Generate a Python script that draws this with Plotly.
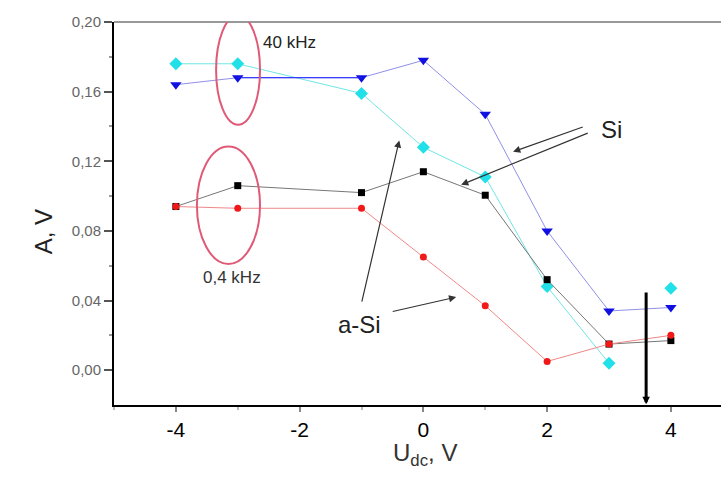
import plotly.graph_objects as go

# Data
x_vals = [-4, -3, -1, 0, 1, 2, 3, 4]
black_sq = [0.094, 0.106, 0.102, 0.114, 0.1005, 0.052, 0.015, 0.017]
red_circ = [0.094, 0.093, 0.093, 0.065, 0.037, 0.005, 0.015, 0.020]
cyan_dia = [0.176, 0.176, 0.159, 0.128, 0.111, 0.048, 0.004, 0.047]
blue_tri = [0.164, 0.168, 0.168, 0.178, 0.147, 0.080, 0.034, 0.036]

y_tickvals = [0.00, 0.04, 0.08, 0.12, 0.16, 0.20]
y_ticktext = ["0,00", "0,04", "0,08", "0,12", "0,16", "0,20"]
x_tickvals = [-4, -2, 0, 2, 4]
x_ticktext = ["-4", "-2", "0", "2", "4"]

FONT = "Arial, Liberation Sans, sans-serif"

fig = go.Figure()

# cyan: line through the first seven points only, markers on all
fig.add_trace(go.Scatter(x=x_vals[:7], y=cyan_dia[:7], mode="lines",
                         line=dict(color="#70e6e6", width=1), showlegend=False))
fig.add_trace(go.Scatter(x=x_vals, y=cyan_dia, mode="markers",
                         marker=dict(symbol="diamond", size=10, color="#22e0e8"),
                         showlegend=False))
# blue
fig.add_trace(go.Scatter(x=x_vals, y=blue_tri, mode="lines+markers",
                         line=dict(color="#9090e8", width=1),
                         marker=dict(symbol="triangle-down", size=10, color="#1010e0"),
                         showlegend=False))
fig.add_trace(go.Scatter(x=x_vals[1:3], y=blue_tri[1:3], mode="lines",
                         line=dict(color="#2020ff", width=1), showlegend=False))
# black
fig.add_trace(go.Scatter(x=x_vals, y=black_sq, mode="lines+markers",
                         line=dict(color="#777777", width=1),
                         marker=dict(symbol="square", size=7, color="#000000"),
                         showlegend=False))
# red
fig.add_trace(go.Scatter(x=x_vals, y=red_circ, mode="lines+markers",
                         line=dict(color="#f08888", width=1),
                         marker=dict(symbol="circle", size=7, color="#f01818"),
                         showlegend=False))

shapes = [
    dict(type="line", xref="paper", yref="paper", x0=0, x1=1, y0=1, y1=1,
         line=dict(color="#777777", width=1.5)),
    dict(type="circle", xref="x", yref="y", x0=-3.35, x1=-2.64, y0=0.141, y1=0.204,
         line=dict(color="#e05a78", width=2)),
    dict(type="circle", xref="x", yref="y", x0=-3.66, x1=-2.64, y0=0.061, y1=0.1285,
         line=dict(color="#e05a78", width=2)),
]

annotations = [
    dict(text="40 kHz", x=-2.17, y=0.1885, xref="x", yref="y", showarrow=False,
         font=dict(family=FONT, size=17, color="#222222")),
    dict(text="0,4 kHz", x=-3.1, y=0.0535, xref="x", yref="y", showarrow=False,
         font=dict(family=FONT, size=17, color="#333333")),
    dict(text="Si", x=3.04, y=0.1385, xref="x", yref="y", showarrow=False,
         font=dict(family=FONT, size=24, color="#222222")),
    dict(text="a-Si", x=-1.03, y=0.026, xref="x", yref="y", showarrow=False,
         font=dict(family=FONT, size=24, color="#222222")),
    dict(text="A, V", x=-0.1417, y=0.452, xref="paper", yref="paper", showarrow=False,
         textangle=-90, font=dict(family=FONT, size=24, color="#222222")),
    dict(text="U<sub>dc</sub>, V", x=0.512, y=-0.175, xref="paper", yref="paper",
         showarrow=False, font=dict(family=FONT, size=24, color="#333333")),
]

arrow_style = dict(xref="x", yref="y", axref="x", ayref="y", text="", showarrow=True,
                   arrowhead=2, arrowsize=1.2, arrowwidth=1.2, arrowcolor="#333333")
arrows = [
    dict(x=1.45, y=0.1255, ax=2.6, ay=0.140),
    dict(x=0.61, y=0.1065, ax=2.68, ay=0.1365),
    dict(x=-0.39, y=0.132, ax=-1.0, ay=0.0385),
    dict(x=0.53, y=0.0420, ax=-0.52, ay=0.0335),
]
for a in arrows:
    annotations.append(dict(**arrow_style, **a))

annotations.append(dict(xref="x", yref="y", axref="x", ayref="y", text="", showarrow=True,
                        x=3.6, y=-0.0195, ax=3.6, ay=0.0455,
                        arrowhead=2, arrowsize=0.5, arrowwidth=3, arrowcolor="#000000"))

fig.update_layout(
    width=721, height=486,
    margin=dict(l=114, r=0, t=22, b=81),
    paper_bgcolor="white", plot_bgcolor="white",
    shapes=shapes, annotations=annotations,
    font=dict(family=FONT),
)

fig.update_xaxes(
    range=[-5, 4.81], showgrid=False, zeroline=False,
    showline=True, linecolor="black", linewidth=2,
    tickvals=x_tickvals, ticktext=x_ticktext,
    ticks="outside", ticklen=5, tickcolor="#888888", tickwidth=1.5,
    minor=dict(tickvals=[-5, -3, -1, 1, 3], ticks="outside", ticklen=3, tickcolor="#bbbbbb"),
    tickfont=dict(family=FONT, size=21, color="#000000"),
)
fig.update_yaxes(
    range=[-0.02, 0.20], showgrid=False, zeroline=False,
    showline=True, linecolor="black", linewidth=2,
    tickvals=y_tickvals, ticktext=y_ticktext,
    ticks="outside", ticklen=8, tickcolor="#555555", tickwidth=1.5,
    minor=dict(tickvals=[0.02, 0.06, 0.10, 0.14, 0.18], ticks="outside", ticklen=3,
               tickcolor="#999999"),
    tickfont=dict(family=FONT, size=15, color="#666666"),
)

fig.write_html("out.html")
